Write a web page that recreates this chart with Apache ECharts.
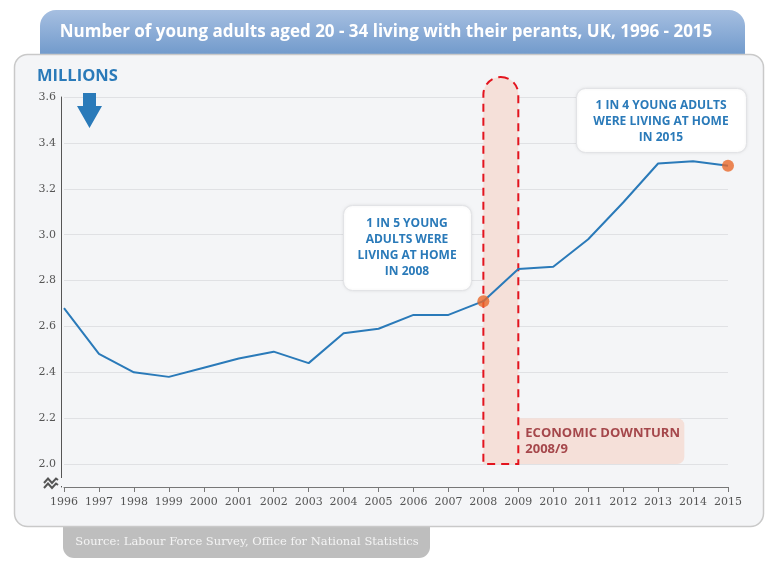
<!DOCTYPE html>
<html><head><meta charset="utf-8">
<script src="https://cdn.jsdelivr.net/npm/echarts@6/dist/echarts.min.js"></script>
<style>html,body{margin:0;padding:0;background:#fff}#c{width:771px;height:572px}</style>
</head><body><div id="c"></div>
<script>
var years = ['1996','1997','1998','1999','2000','2001','2002','2003','2004','2005','2006','2007','2008','2009','2010','2011','2012','2013','2014','2015'];
var values = [2.68,2.48,2.40,2.38,2.42,2.46,2.49,2.44,2.57,2.59,2.65,2.65,2.71,2.85,2.86,2.98,3.14,3.31,3.32,3.30];
var highlightYears = ['2008','2015'];
var downturnStart = '2008', downturnEnd = '2009';
var downturnLow = 2.0, downturnBoxHigh = 2.2;
var yTickLabels = ['2.0','2.2','2.4','2.6','2.8','3.0','3.2','3.4','3.6'];

var chart = echarts.init(document.getElementById('c'), null, {renderer:'canvas'});
var blue = '#2a7ab9';
var sansF = '"Open Sans", "Noto Sans", sans-serif';
var serifF = 'DejaVu Serif';

var highlightData = highlightYears.map(function(y){ return [y, values[years.indexOf(y)]]; });

var option = {
  backgroundColor: '#fff',
  animation: false,
  textStyle: {fontFamily: serifF},
  grid: {left: 64, right: 43, top: 97, bottom: 85},
  xAxis: {
    type: 'category', data: years, boundaryGap: false,
    axisLine: {lineStyle: {color: '#777', width: 1}},
    axisTick: {show: true, alignWithLabel: true, length: 5, lineStyle: {color: '#777'}},
    axisLabel: {color: '#555', fontFamily: serifF, fontSize: 11, margin: 10, interval: 0},
    splitLine: {show: false}
  },
  yAxis: {
    type: 'value', min: 1.9, max: 3.6, interval: 0.1, offset: 3,
    axisLine: {show: true, lineStyle: {color: '#555', width: 1}},
    axisTick: {show: false},
    axisLabel: {color: '#555', fontFamily: serifF, fontSize: 11, margin: 5,
      formatter: function(v){ var s = v.toFixed(1); return yTickLabels.indexOf(s) >= 0 ? s : ''; }},
    splitLine: {show: true, lineStyle: {color: ['rgba(0,0,0,0)','#e0e1e4'], width: 1}}
  },
  series: [
    {
      type: 'custom', z: 1, silent: true,
      data: [[years.indexOf(downturnStart), downturnLow]],
      renderItem: function(params, api){
        var i0 = years.indexOf(downturnStart), i1 = years.indexOf(downturnEnd);
        var pBot0 = api.coord([i0, downturnLow]);
        var pBot1 = api.coord([i1, downturnLow]);
        var pTop = api.coord([i0, 3.6]);
        var pBoxTop = api.coord([i1, downturnBoxHigh]);
        var w = pBot1[0] - pBot0[0];
        var topY = pTop[1] - 20;
        return {
          type: 'group',
          children: [
            {type: 'rect', shape: {x: pBot1[0], y: pBoxTop[1], width: 166, height: pBot1[1] - pBoxTop[1], r: [0,7,7,0]},
             style: {fill: '#f5e0d9', stroke: null}},
            {type: 'rect', shape: {x: pBot0[0], y: topY, width: w, height: pBot0[1] - topY, r: [w/2, w/2, 0, 0]},
             style: {fill: '#f5e0d9', stroke: '#e3141e', lineWidth: 2, lineDash: [8,6]}},
            {type: 'text', style: {x: pBot1[0] + 7, y: pBoxTop[1] + 7, text: 'ECONOMIC DOWNTURN\n2008/9',
              fill: '#a5474b', font: 'bold 13px ' + sansF, lineHeight: 16, textVerticalAlign: 'top'}}
          ]
        };
      }
    },
    {
      type: 'line', data: values, z: 3, showSymbol: false, symbol: 'none',
      lineStyle: {color: blue, width: 2}
    },
    {
      type: 'scatter', data: highlightData, z: 4, symbol: 'circle', symbolSize: 12,
      itemStyle: {color: '#e8692a'}
    }
  ],
  graphic: [
    {type: 'rect', z: -10, shape: {x: 40, y: 10, width: 705, height: 50, r: [16,16,0,0]},
     style: {fill: new echarts.graphic.LinearGradient(0,0,0,1,[{offset:0,color:'#a6bfe1'},{offset:1,color:'#6b96c9'}])}},
    {type: 'text', z: -9, style: {x: 386, y: 32, text: 'Number of young adults aged 20 - 34 living with their perants, UK, 1996 - 2015',
      fill: '#fff', font: 'bold 17px ' + sansF, textAlign: 'center', textVerticalAlign: 'middle'}},
    {type: 'rect', z: -8, shape: {x: 63, y: 510, width: 367, height: 48, r: [0,0,11,11]},
     style: {fill: '#bebebe'}},
    {type: 'text', z: -7, style: {x: 247, y: 542, text: 'Source: Labour Force Survey, Office for National Statistics',
      fill: '#f4f4f4', font: '11.5px DejaVu Serif', textAlign: 'center', textVerticalAlign: 'middle'}},
    {type: 'rect', z: -6, shape: {x: 14.5, y: 54.5, width: 749, height: 472, r: 13},
     style: {fill: '#f4f5f7', stroke: '#c9c9c9', lineWidth: 1.5}},
    {type: 'text', z: 5, style: {x: 37, y: 76, text: 'MILLIONS', fill: blue, font: 'bold 16.5px ' + sansF, textVerticalAlign: 'middle'}},
    {type: 'polygon', z: 5, shape: {points: [[83,93],[96,93],[96,106],[102,106],[89.5,128],[77,106],[83,106]]}, style: {fill: blue}},
    {type: 'rect', z: 50, shape: {x: 58, y: 478, width: 6, height: 8}, style: {fill: '#f4f5f7'}},
    {type: 'polyline', z: 51, shape: {points: [[44,483],[48,478.5],[52,483],[56,478.5],[58,480]]}, style: {stroke: '#555', lineWidth: 2, fill: null}},
    {type: 'polyline', z: 51, shape: {points: [[44,488],[48,483.5],[52,488],[56,483.5],[58,485]]}, style: {stroke: '#555', lineWidth: 2, fill: null}},
    {type: 'rect', z: 20, shape: {x: 343.5, y: 205.5, width: 128, height: 85, r: 9},
     style: {fill: '#fff', stroke: '#e2e3e6', lineWidth: 1, shadowBlur: 3, shadowColor: 'rgba(0,0,0,0.08)'}},
    {type: 'text', z: 21, style: {x: 407, y: 248, text: '1 IN 5 YOUNG\nADULTS WERE\nLIVING AT HOME\nIN 2008',
      fill: blue, font: 'bold 12px ' + sansF, lineHeight: 16, textAlign: 'center', textVerticalAlign: 'middle'}},
    {type: 'rect', z: 20, shape: {x: 576.5, y: 88.5, width: 170, height: 64, r: 9},
     style: {fill: '#fff', stroke: '#e2e3e6', lineWidth: 1, shadowBlur: 3, shadowColor: 'rgba(0,0,0,0.08)'}},
    {type: 'text', z: 21, style: {x: 661, y: 122, text: '1 IN 4 YOUNG ADULTS\nWERE LIVING AT HOME\nIN 2015',
      fill: blue, font: 'bold 12px ' + sansF, lineHeight: 16, textAlign: 'center', textVerticalAlign: 'middle'}}
  ]
};
chart.setOption(option);
</script>
</body></html>
